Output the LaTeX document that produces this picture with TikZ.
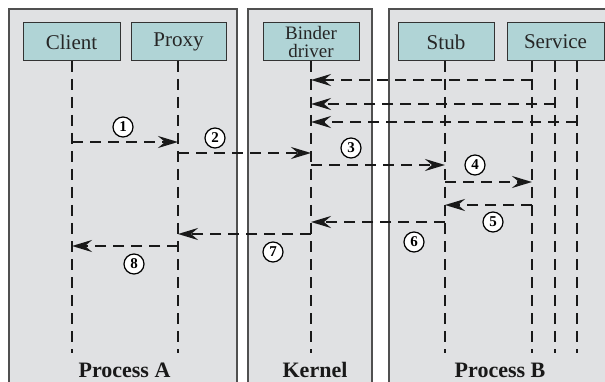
\documentclass[tikz,border=0pt]{standalone}
\usepackage{fontspec}
\setmainfont{Liberation Serif}
\usetikzlibrary{arrows.meta}
\definecolor{panelgray}{RGB}{224,225,227}
\definecolor{boxteal}{RGB}{176,212,214}
\definecolor{edgegray}{RGB}{80,80,80}
\begin{document}
\begin{tikzpicture}[x=1pt,y=-1pt,
  panel/.style={draw=edgegray,line width=1.1pt,fill=panelgray},
  actor/.style={draw=black!80,line width=1pt,fill=boxteal,minimum height=38pt,inner sep=0pt,
    font=\fontsize{21}{17}\selectfont,text=black!85,align=center},
  life/.style={line width=2.4pt,dash pattern=on 11pt off 7pt,black!90},
  msg/.style={line width=2.4pt,dash pattern=on 11pt off 7pt,black!90,
    -{Stealth[length=20pt,width=12pt,inset=7pt]}},
  num/.style={circle,draw,line width=1.2pt,fill=white,minimum size=20pt,inner sep=0pt,
    font=\fontsize{15}{15}\bfseries\selectfont},
  plabel/.style={font=\fontsize{22}{22}\bfseries\selectfont,text=black!90,anchor=base}]
\useasboundingbox (0,0) rectangle (605,382);
% panels
\path[panel] (9,9) rectangle (237,395);
\path[panel] (248,9) rectangle (372,395);
\path[panel] (389,9) rectangle (620,395);
% actor boxes
\node[actor,minimum width=97pt] (client) at (71.5,42) {Client};
\node[actor,minimum width=95pt] (proxy) at (178.5,42) {Proxy};
\node[actor,minimum width=96pt,font=\fontsize{19}{18}\selectfont] (binder) at (311,42) {Binder\\driver};
\node[actor,minimum width=96pt] (stub) at (446,42) {Stub};
\node[actor,minimum width=97pt] (service) at (555.5,42) {Service};
% lifeline coordinates
\coordinate (lc) at (72,61);
\coordinate (lp) at (178,61);
\coordinate (lb) at (311,61);
\coordinate (ls) at (445,61);
\coordinate (lv1) at (532,61);
\coordinate (lv2) at (555,61);
\coordinate (lv3) at (577,61);
\coordinate (bottom) at (0,353);
\foreach \l in {lc,lp,lb,ls,lv1,lv2,lv3}
  \draw[life] (\l) -- (\l |- bottom);
% row coordinates
\coordinate (ra) at (0,80);
\coordinate (rb) at (0,104);
\coordinate (rc) at (0,122);
\coordinate (r1) at (0,142);
\coordinate (r2) at (0,153);
\coordinate (r3) at (0,165);
\coordinate (r4) at (0,182);
\coordinate (r5) at (0,205);
\coordinate (r6) at (0,222);
\coordinate (r7) at (0,234);
\coordinate (r8) at (0,246);
% return arrows at top
\draw[msg] (lv1 |- ra) -- (lb |- ra);
\draw[msg] (lv2 |- rb) -- (lb |- rb);
\draw[msg] (lv3 |- rc) -- (lb |- rc);
% numbered messages
\draw[msg] (lc |- r1) -- (lp |- r1);
\draw[msg] (lp |- r2) -- (lb |- r2);
\draw[msg] (lb |- r3) -- (ls |- r3);
\draw[msg] (ls |- r4) -- (lv1 |- r4);
\draw[msg] (lv1 |- r5) -- (ls |- r5);
\draw[msg] (ls |- r6) -- (lb |- r6);
\draw[msg] (lb |- r7) -- (lp |- r7);
\draw[msg] (lp |- r8) -- (lc |- r8);
% step numbers
\node[num] (n1) at (123,127) {1};
\node[num] (n2) at (215,138) {2};
\node[num] (n3) at (351,148) {3};
\node[num] (n4) at (475,165) {4};
\node[num] (n5) at (493,222) {5};
\node[num] (n6) at (414,242) {6};
\node[num] (n7) at (273,252) {7};
\node[num] (n8) at (134,264) {8};
% panel labels
\node[plabel] (pa) at (124.5,377) {Process A};
\node[plabel] (pk) at (315,377) {Kernel};
\node[plabel] (pb) at (500,377) {Process B};
\end{tikzpicture}
\end{document}
